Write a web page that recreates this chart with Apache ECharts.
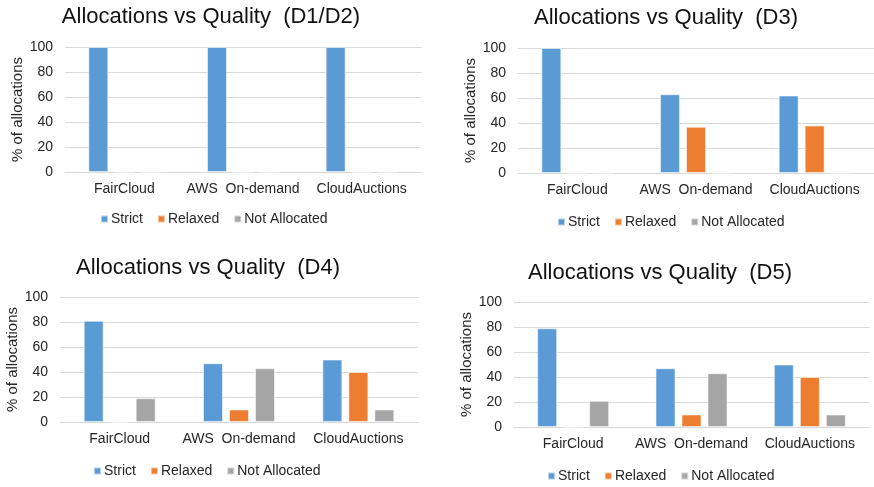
<!DOCTYPE html>
<html>
<head>
<meta charset="utf-8">
<script src="https://cdn.jsdelivr.net/npm/echarts@6/dist/echarts.min.js"></script>
<style>
  html, body { margin: 0; padding: 0; background: #fff; }
  #chart { width: 874px; height: 487px; }
</style>
</head>
<body>
<div id="chart"></div>
<script>
// Providers on the x axis, quality outcomes as series
const categories = ['FairCloud', 'AWS  On-demand', 'CloudAuctions'];
const seriesNames = ['Strict', 'Relaxed', 'Not Allocated'];
const yTicks = [0, 20, 40, 60, 80, 100];

// Percentage of allocations per scenario, one array per outcome
const d12Strict = [100, 100, 100];
const d12Relaxed = [0, 0, 0];
const d12NotAllocated = [0, 0, 0];

const d3Strict = [100, 63, 62];
const d3Relaxed = [0, 37, 38];
const d3NotAllocated = [0, 0, 0];

const d4Strict = [81, 47, 50];
const d4Relaxed = [0, 10, 40];
const d4NotAllocated = [19, 43, 10];

const d5Strict = [79, 47, 50];
const d5Relaxed = [0, 10, 40];
const d5NotAllocated = [21, 43, 10];

const panelTitles = [
  'Allocations vs Quality  (D1/D2)',
  'Allocations vs Quality  (D3)',
  'Allocations vs Quality  (D4)',
  'Allocations vs Quality  (D5)'
];
const panelData = [
  [d12Strict, d12Relaxed, d12NotAllocated],
  [d3Strict, d3Relaxed, d3NotAllocated],
  [d4Strict, d4Relaxed, d4NotAllocated],
  [d5Strict, d5Relaxed, d5NotAllocated]
];

const colors = ['#5B9BD5', '#ED7D31', '#A5A5A5'];
const textColor = '#262626';
const font = 'Liberation Sans, Arial, sans-serif';

// Panel placement in pixels
const layout = [
  { grid: { left: 65, top: 47, width: 356, height: 125 }, title: [206, 1], legend: [95, 207] },
  { grid: { left: 518, top: 48, width: 356, height: 125 }, title: [661, 2], legend: [552, 210] },
  { grid: { left: 60, top: 297, width: 358, height: 125 }, title: [203, 252], legend: [88, 459] },
  { grid: { left: 514, top: 302, width: 355, height: 125 }, title: [655, 257], legend: [542, 464] }
];

const option = {
  animation: false,
  color: colors,
  textStyle: { fontFamily: font, color: textColor },
  title: [], legend: [], grid: [], xAxis: [], yAxis: [], series: []
};

layout.forEach((p, i) => {
  option.title.push({
    text: panelTitles[i],
    left: p.title[0], top: p.title[1], textAlign: 'center',
    textStyle: { fontFamily: font, fontSize: 22, fontWeight: 'normal', color: '#111' }
  });
  option.legend.push({
    data: seriesNames,
    left: p.legend[0], top: p.legend[1],
    icon: 'rect', itemWidth: 7, itemHeight: 7, itemGap: 14,
    selectedMode: false,
    textStyle: { fontFamily: font, fontSize: 14, color: textColor, padding: [0, 0, 0, -2] }
  });
  option.grid.push(Object.assign({ containLabel: false }, p.grid));
  option.xAxis.push({
    type: 'category', gridIndex: i, data: categories,
    axisLine: { lineStyle: { color: '#D9D9D9' } },
    axisTick: { show: false },
    axisLabel: { fontFamily: font, fontSize: 14, color: textColor, margin: 10, interval: 0 }
  });
  option.yAxis.push({
    type: 'value', gridIndex: i, min: 0, max: 100, interval: 20,
    name: '% of allocations', nameLocation: 'middle', nameGap: 39,
    nameTextStyle: { fontFamily: font, fontSize: 15, color: textColor },
    axisLine: { show: false }, axisTick: { show: false },
    axisLabel: { fontFamily: font, fontSize: 14, color: textColor, margin: 12,
      formatter: v => (yTicks.includes(v) ? String(v) : '') },
    splitLine: { lineStyle: { color: '#D9D9D9' } }
  });
  seriesNames.forEach((name, s) => {
    option.series.push({
      type: 'bar', name, xAxisIndex: i, yAxisIndex: i,
      data: panelData[i][s],
      barWidth: 20, barGap: '30%',
      itemStyle: { color: colors[s], borderColor: 'rgba(255,255,255,0.55)', borderWidth: 1 }
    });
  });
});

const chart = echarts.init(document.getElementById('chart'), null, { renderer: 'canvas' });
chart.setOption(option);
</script>
</body>
</html>
